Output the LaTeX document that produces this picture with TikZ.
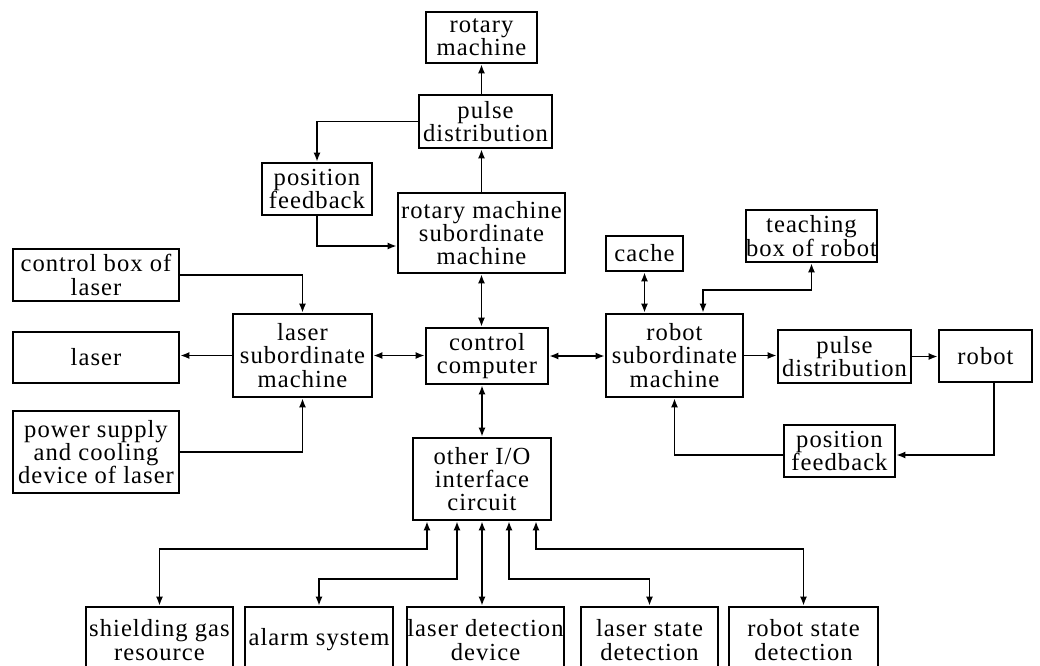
\documentclass[tikz,border=0pt]{standalone}
\usepackage{fontspec}
\setmainfont{Liberation Serif}[LetterSpace=4.2]
\usepackage{tikz}
\usetikzlibrary{arrows.meta}
\newcommand\boxfont{\fontsize{17.5}{16.6}\selectfont\lineskiplimit=-20pt\relax}

\begin{document}
\begin{tikzpicture}[x=0.025cm, y=-0.025cm,
    box/.style={draw, line width=1.7pt, inner sep=0pt, align=center, font=\boxfont},
    sz/.style 2 args={minimum width=#1*0.025cm, minimum height=#2*0.025cm},
    conn/.style={line width=1.4pt},
    >={Latex[length=6.5pt,width=5pt]}]

    \useasboundingbox (0,0) rectangle (1040,665);

    % rotary machine branch
    \node[box, sz={111}{51}] (rotm) at (481.5,37.5) {rotary\\machine};
    \node[box, sz={133}{53}] (pulseA) at (485.5,121.5) {pulse\\distribution};
    \node[box, sz={110}{52}] (posA) at (317,189) {position\\feedback};
    \node[box, sz={167}{80}] (rotsub) at (481.5,233) {rotary machine\\subordinate\\machine};

    % laser branch
    \node[box, sz={166}{52}] (ctrlbox) at (96,275) {control box of\\laser};
    \node[box, sz={166}{51}] (laser) at (96,357.5) {laser};
    \node[box, sz={166}{82}] (power) at (96,452) {power supply\\and cooling\\device of laser};
    \node[box, sz={139}{83}] (lasersub) at (302.5,355.5) {laser\\subordinate\\machine};

    \node[box, sz={122}{56}] (ctrl) at (487,356) {control\\computer};

    % robot branch
    \node[box, sz={77}{35}] (cache) at (644.5,253.5) {cache};
    \node[box, sz={131}{52}] (teach) at (811.5,236) {teaching\\box of robot};
    \node[box, sz={137}{83}] (robsub) at (674.5,355.5) {robot\\subordinate\\machine};
    \node[box, sz={133}{53}] (pulseB) at (844.5,356.5) {pulse\\distribution};
    \node[box, sz={93}{52}] (robot) at (985.5,356) {robot};
    \node[box, sz={111}{52}] (posB) at (839.5,451) {position\\feedback};

    % I/O and bottom row
    \node[box, sz={138}{82}] (io) at (482,479) {other I/O\\interface\\circuit};
    \node[box, sz={147}{66}] (gas) at (159.5,640) {shielding gas\\resource};
    \node[box, sz={148}{66}] (alarm) at (319,640) {alarm system};
    \node[box, sz={157}{66}] (ldet) at (485.5,640) {laser detection\\device};
    \node[box, sz={137}{66}] (lstate) at (649.5,640) {laser state\\detection};
    \node[box, sz={149}{66}] (rstate) at (803.5,640) {robot state\\detection};

    \draw[conn,->] (rotsub.north) -- (rotsub.north |- pulseA.south);
    \draw[conn,->] (rotm.south |- pulseA.north) -- (rotm.south);
    \draw[conn,->] (pulseA.west) -| (posA.north);
    \draw[conn,->] (posA.south) |- ([yshift=-0.325cm]rotsub.west);
    \draw[conn,<->] (rotsub.south) -- (rotsub.south |- ctrl.north);

    \draw[conn,->] (ctrlbox.east) -| (lasersub.north);
    \draw[conn,->] (power.east) -| (lasersub.south);
    \draw[conn,->] (lasersub.west) -- (lasersub.west -| laser.east);
    \draw[conn,<->] (lasersub.east) -- (lasersub.east -| ctrl.west);

    \draw[conn,<->] (ctrl.east) -- (ctrl.east -| robsub.west);
    \draw[conn,<->] (io.north) -- (io.north |- ctrl.south);

    \draw[conn,<->] (cache.south) -- (cache.south |- robsub.north);
    \draw[conn,<->] (teach.south) -- ++(0,27) -| ([xshift=0.7125cm]robsub.north);
    \draw[conn,->] (robsub.east) -- (robsub.east -| pulseB.west);
    \draw[conn,->] (pulseB.east) -- (pulseB.east -| robot.west);
    \draw[conn,->] ([xshift=0.2125cm]robot.south) |- ([yshift=-0.1cm]posB.east);
    \draw[conn,->] ([yshift=-0.1cm]posB.west) -| (robsub.south);

    \draw[conn,<->] ([xshift=-1.375cm]io.south) -- ++(0,28) -| (gas.north);
    \draw[conn,<->] ([xshift=-0.625cm]io.south) -- ++(0,58) -| (alarm.north);
    \draw[conn,<->] (io.south) -- (io.south |- ldet.north);
    \draw[conn,<->] ([xshift=0.675cm]io.south) -- ++(0,58) -| (lstate.north);
    \draw[conn,<->] ([xshift=1.35cm]io.south) -- ++(0,28) -| (rstate.north);
\end{tikzpicture}
\end{document}
